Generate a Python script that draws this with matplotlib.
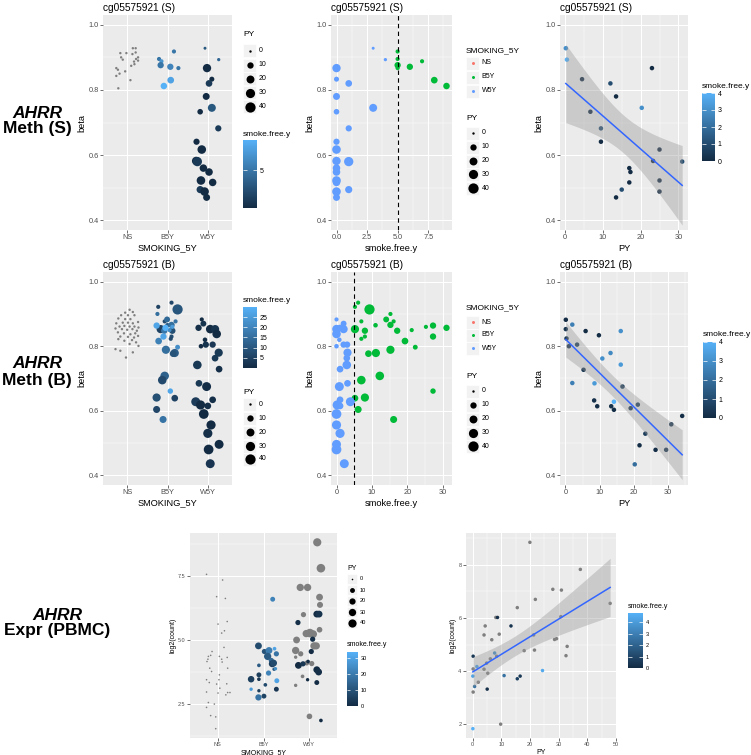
import numpy as np
import matplotlib.pyplot as plt
import matplotlib.ticker as ticker
from matplotlib.colors import LinearSegmentedColormap, Normalize
from matplotlib.cm import ScalarMappable
from matplotlib.patches import Rectangle

plt.rcParams["font.family"] = ["Liberation Sans", "DejaVu Sans"]

# ------------------------------------------------------------------
# data
# ------------------------------------------------------------------
GROUPS = ["NS", "B5Y", "W5Y"]
PY_BREAKS = [0, 10, 20, 30, 40]

# --- methylation, saliva (S) ---
S_NS_JIT = [0.83, 0.98, 1.14, 1.21, 1.21, 1.13, 1.27, 1.22, 1.17, 1.27, 0.85,
            0.89, 0.73, 0.77, 0.95, 1.10, 1.18, 0.73, 0.81, 1.08, 0.78]
S_NS_BETA = [0.913, 0.913, 0.928, 0.928, 0.915, 0.910, 0.900, 0.895, 0.887, 0.890, 0.900,
             0.893, 0.867, 0.862, 0.857, 0.874, 0.879, 0.843, 0.850, 0.830, 0.805]

S_B5Y_JIT = [2.16, 1.79, 1.85, 1.83, 2.07, 2.27, 2.08, 1.91]
S_B5Y_SFY = [5, 5, 7, 5, 6, 5, 8, 9]
S_B5Y_PY = [2, 2, 2, 10, 10, 2, 12, 11]
S_B5Y_BETA = [0.918, 0.895, 0.888, 0.876, 0.871, 0.867, 0.830, 0.812]

S_W5Y_JIT = [2.93, 3.27, 2.98, 3.10, 3.03, 2.96, 2.81, 3.10, 3.26, 2.72,
             2.85, 2.71, 2.74, 2.89, 3.03, 2.83, 3.12, 2.81, 2.92, 2.97]
S_W5Y_SFY = [3, 4, 0, 0, 1, 0, 0, 3, 1, 0, 0, 0, 1, 0, 0, 0, 0, 1, 0, 0]
S_W5Y_PY = [0.2, 0.5, 23, 4.5, 12, 13.5, 6.7, 20.3, 9.5, 9.5,
            25, 23.3, 31, 17, 17.3, 25, 17, 15, 25, 13.5]
S_W5Y_BETA = [0.928, 0.893, 0.867, 0.833, 0.820, 0.780, 0.733, 0.745, 0.682, 0.641,
              0.617, 0.582, 0.580, 0.560, 0.548, 0.522, 0.516, 0.494, 0.488, 0.470]

# --- methylation, blood (B) ---
B_NS_JIT = [1.06, 0.95, 1.14, 0.85, 1.02, 1.18, 0.78, 0.95, 1.08, 0.89, 0.73, 1.02, 1.14,
            1.27, 0.81, 0.93, 1.06, 1.18, 1.28, 0.71, 0.87, 1.00, 1.13, 1.24, 0.77, 0.92,
            1.08, 1.20, 0.83, 1.02, 1.17, 1.27, 0.78, 1.12, 1.22, 1.28, 1.06, 0.71, 0.83,
            1.14, 0.97, 0.93]
B_NS_BETA = [0.913, 0.904, 0.906, 0.896, 0.896, 0.896, 0.886, 0.884, 0.884, 0.873, 0.871,
             0.873, 0.871, 0.875, 0.861, 0.863, 0.861, 0.861, 0.858, 0.855, 0.853, 0.851,
             0.853, 0.848, 0.843, 0.840, 0.837, 0.840, 0.830, 0.829, 0.827, 0.832, 0.822,
             0.819, 0.812, 0.801, 0.807, 0.791, 0.786, 0.781, 0.765, 0.817]

B_B5Y_JIT = [1.77, 2.10, 2.25, 1.93, 1.83, 2.12, 2.10, 2.08, 2.00, 1.99, 1.75, 2.20, 2.10,
             1.92, 2.05, 2.12, 1.73, 1.95, 1.90, 1.78, 2.25, 1.96, 2.18, 2.14, 1.93, 1.87,
             2.07, 2.18, 1.73, 1.73, 1.89]
B_B5Y_SFY = [5.2, 6.1, 9.3, 7.0, 5.2, 8.0, 8.0, 7.0, 11.0, 14.0, 15.2, 16.1, 15.2, 17.1,
             21.2, 25.2, 27.2, 31.0, 27.2, 19.3, 22.2, 15.2, 11.1, 9.0, 12.2, 7.0, 27.2,
             5.2, 8.0, 6.1, 16.1]
B_B5Y_PY = [2, 2, 40, 2, 22, 10, 2, 2, 3, 8, 2, 2, 10, 10, 2, 2, 10, 10, 10, 12, 4, 22,
            22, 12, 25, 25, 6, 12, 22, 14, 14]
B_B5Y_BETA = [0.922, 0.935, 0.914, 0.877, 0.853, 0.848, 0.830, 0.823, 0.865, 0.883, 0.900,
              0.877, 0.866, 0.848, 0.850, 0.860, 0.864, 0.857, 0.830, 0.816, 0.797, 0.789,
              0.779, 0.777, 0.708, 0.695, 0.661, 0.639, 0.641, 0.604, 0.573]

B_W5Y_JIT = [2.85, 2.89, 3.06, 2.77, 3.18, 3.22, 2.93, 2.83, 2.95, 3.12, 3.27, 3.18, 2.74,
             3.28, 2.78, 2.97, 3.12, 2.70, 2.82, 3.00, 2.90, 3.08, 3.00, 3.28, 3.02, 3.06]
B_W5Y_SFY = [0.0, 2.0, 0.0, 1.0, 2.0, 0.0, 0.8, 0.0, 2.0, 3.0, 3.1, 2.9, 2.9, 1.0, 3.1,
             0.8, 1.0, 3.9, 0.2, 1.0, 0.0, 0.0, 1.0, 0.0, 0.0, 2.2]
B_W5Y_PY = [2, 8, 25, 10, 22, 25, 3, 3, 10, 10, 22, 12, 25, 12, 12, 28, 12, 28, 30, 12,
            35, 30, 30, 28, 35, 28]
B_W5Y_BETA = [0.883, 0.870, 0.853, 0.857, 0.853, 0.838, 0.820, 0.800, 0.805, 0.805, 0.780,
              0.763, 0.742, 0.729, 0.685, 0.675, 0.634, 0.628, 0.618, 0.615, 0.590, 0.556,
              0.530, 0.496, 0.480, 0.436]

B_LM_PY = [0.1, 0.1, 0.3, 2.0, 1.0, 3.4, 5.9, 9.8, 5.3, 2.0, 8.5, 10.8, 13.2, 16.2, 16.2,
           16.7, 14.2, 8.4, 9.3, 13.4, 14.2, 19.1, 21.2, 23.4, 21.7, 20.3, 26.4, 29.5,
           31.0, 34.2]
B_LM_SFY = [0, 0.3, 0.3, 2.5, 0.2, 0.5, 0, 0, 0.3, 2.5, 3.3, 3.0, 2.8, 3.0, 3.3, 0.5, 4.0,
            0.2, 0.1, 0.2, 0.1, 0.3, 0.5, 0.5, 0.1, 2.0, 0.1, 0.3, 0.3, 0.1]
B_LM_BETA = [0.882, 0.853, 0.824, 0.867, 0.800, 0.805, 0.847, 0.834, 0.727, 0.686, 0.685,
             0.762, 0.779, 0.847, 0.743, 0.675, 0.628, 0.632, 0.614, 0.614, 0.603, 0.608,
             0.619, 0.529, 0.493, 0.434, 0.479, 0.479, 0.558, 0.584]

# --- expression, PBMC ---
E_NS_JIT = [0.76, 1.11, 0.98, 1.17, 1.01, 1.21, 1.09, 1.15, 1.14, 0.88, 0.80, 0.85, 1.04,
            0.77, 0.79, 1.09, 1.10, 1.21, 0.83, 0.87, 1.22, 1.04, 0.76, 0.82, 1.03, 0.98,
            1.05, 1.20, 0.76, 1.01, 1.22, 1.27, 1.18, 0.80, 0.76, 0.93, 0.85, 0.96, 0.96]
E_NS_VAL = [7.56, 7.34, 6.69, 6.62, 5.62, 5.72, 5.27, 5.36, 4.71, 4.55, 4.36, 4.40, 4.36,
            4.16, 4.25, 4.25, 4.14, 4.32, 3.90, 3.77, 3.90, 3.64, 3.45, 3.34, 3.45, 3.28,
            3.12, 3.29, 2.97, 2.93, 2.95, 2.95, 2.86, 2.56, 2.37, 2.50, 2.05, 2.00, 1.54]

E_B5Y_JIT = [2.20, 1.89, 2.02, 2.12, 2.09, 2.24, 2.28, 2.17, 2.19, 2.22, 1.90, 2.23, 2.26,
             2.11, 1.90, 1.73, 1.90, 2.04, 2.29, 2.28, 1.73, 1.90, 1.89, 2.01]
E_B5Y_SFY = [22, 8, 10, 20, 12, 30, 18, 15, 5, 8, 12, 10, 25, 22, 5, 5, 3, 8, 30, 3, 28,
             5, 18, 6]
E_B5Y_PY = [10, 25, 12, 25, 30, 4, 12, 12, 25, 25, 4, 3, 3, 12, 10, 22, 4, 4, 10, 10, 3,
            3, 20, 10]
E_B5Y_VAL = [6.59, 4.77, 4.55, 4.59, 4.36, 4.66, 4.46, 4.20, 4.07, 4.10, 4.01, 3.86, 3.88,
             3.71, 3.64, 3.47, 3.47, 3.25, 3.41, 3.08, 3.08, 3.02, 2.76, 2.81]

E_W5Y_JIT = [3.17, 3.25, 2.80, 2.96, 3.22, 3.23, 2.87, 3.22, 3.01, 3.08, 2.93, 2.72, 2.70,
             2.81, 3.10, 3.15, 2.70, 2.94, 3.05, 2.85, 2.70, 3.00,
             2.75, 3.16, 3.21, 3.07, 3.04, 2.76, 2.86, 2.97, 3.16, 3.20, 2.96, 3.16, 3.25]
E_W5Y_SFY = [np.nan] * 22 + [1, 0, 2, 1, 0, 0, 3, 0, 0, 1, 0, 0, 0]
E_W5Y_PY = [40, 45, 30, 30, 25, 18, 12, 15, 45, 35, 30, 25, 30, 12, 30, 28, 3, 10, 12, 4,
            3, 15, 12, 25, 25, 12, 12, 25, 12, 4, 25, 25, 3, 10, 4]
E_W5Y_VAL = [8.81, 7.80, 7.05, 7.05, 6.67, 6.37, 5.99, 5.40, 5.27, 5.23, 5.25, 5.00, 4.59,
             4.46, 4.77, 4.77, 4.33, 4.10, 4.08, 3.58, 3.23, 2.02,
             5.68, 6.01, 6.01, 5.03, 4.55, 4.01, 4.07, 4.16, 3.84, 3.75, 3.45, 3.34, 1.86]

E_LM_PY = [20, 37.6, 28, 31, 21.9, 48, 15.6, 30.8, 8.1, 4.4, 4.0, 9.3, 21.3, 6.7, 28.6,
           29.3, 33, 18, 21.6, 8.4, 6.2, 4.9, 32.6, 0.2, 4.0, 5.3, 2.0, 0.2, 9.8,
           8.7, 13.4, 7.7, 0.2, 1.5, 24.4, 0.1, 11, 16.6, 15.6, 0.7, 5.1, 0.1]
E_LM_SFY = [np.nan] * 29 + [0.2, 0.3, 3.5, 0.5, 4.2, 4.5, 4.3, 2.5, 0.5, 0.8, 2.5, 0.2, 4.8]
E_LM_VAL = [8.85, 7.83, 7.08, 7.05, 6.70, 6.55, 6.39, 6.05, 6.02, 5.70, 5.36, 5.39, 5.36,
            5.18, 5.19, 5.22, 4.93, 4.77, 4.79, 4.56, 4.46, 4.30, 4.58, 4.08, 4.07, 3.92,
            3.58, 3.21, 2.00,
            6.02, 5.70, 4.68, 4.56, 4.17, 4.02, 3.81, 3.83, 3.81, 3.71, 3.42, 3.32, 1.83]

# ------------------------------------------------------------------
# styling helpers
# ------------------------------------------------------------------
W, H = 751, 755
GG_BLUE = LinearSegmentedColormap.from_list("gg", ["#132B43", "#56B1F7"]).with_extremes(bad="#7F7F7F")
GROUP_COL = {"NS": "#F8766D", "B5Y": "#00BA38", "W5Y": "#619CFF"}

fig = plt.figure(figsize=(W / 100, H / 100), dpi=100)

# overlay in pixel coordinates for legends and row labels
ov = fig.add_axes([0, 0, 1, 1])
ov.set_xlim(0, W)
ov.set_ylim(H, 0)
ov.set_autoscale_on(False)
ov.axis("off")
ov.set_zorder(10)


def px_axes(x0, y0, x1, y1):
    return fig.add_axes([x0 / W, 1 - y1 / H, (x1 - x0) / W, (y1 - y0) / H])


def pt2(d_px):
    return (np.asarray(d_px, float) * 0.72) ** 2


def size_meth(py):
    return pt2(2.4 + 8.3 * np.sqrt(np.asarray(py, float) / 45))


def size_expr(py):
    return pt2(1.6 + 7.0 * np.sqrt(np.asarray(py, float) / 45))


def gg_style(ax, fs, xminor=True):
    ax.set_facecolor("#EBEBEB")
    for sp in ax.spines.values():
        sp.set_visible(False)
    ax.set_axisbelow(True)
    ax.grid(which="major", color="white", lw=0.75)
    ax.grid(which="minor", color="white", lw=0.35)
    if xminor:
        ax.xaxis.set_minor_locator(ticker.AutoMinorLocator(2))
    ax.yaxis.set_minor_locator(ticker.AutoMinorLocator(2))
    ax.tick_params(which="major", length=2, width=0.5, color="#333333",
                   labelcolor="#4D4D4D", labelsize=fs, pad=1.2)
    ax.tick_params(which="minor", length=0)


def add_lm(ax, x, y):
    x = np.asarray(x, float)
    y = np.asarray(y, float)
    n = len(x)
    b, a = np.polyfit(x, y, 1)
    xs = np.linspace(x.min(), x.max(), 80)
    fit = a + b * xs
    s = np.sqrt(np.sum((y - (a + b * x)) ** 2) / (n - 2))
    se = s * np.sqrt(1 / n + (xs - x.mean()) ** 2 / np.sum((x - x.mean()) ** 2))
    t = 1.96 + 2.4 / (n - 2)
    ax.fill_between(xs, fit - t * se, fit + t * se, color="#999999", alpha=0.4, lw=0, zorder=3)
    ax.plot(xs, fit, color="#3366FF", lw=1.1, zorder=4)


def colorbar(x0, y0, x1, y1, vmax, ticks, title_y, fs_title, fs_lab):
    cax = px_axes(x0, y0, x1, y1)
    cb = fig.colorbar(ScalarMappable(Normalize(0, vmax), GG_BLUE), cax=cax)
    cb.outline.set_visible(False)
    cb.set_ticks(ticks)
    cb.minorticks_off()
    cax.tick_params(which="both", left=True, right=True, direction="in", color="white",
                    length=(x1 - x0) * 0.2, width=0.5, labelsize=fs_lab, pad=2)
    ov.text(x0, title_y, "smoke.free.y", fontsize=fs_title, va="center", ha="left")


def py_legend(x, y_title, ys, key, sizef, fs_title, fs_lab):
    ov.text(x, y_title, "PY", fontsize=fs_title, va="center", ha="left")
    for yy, v in zip(ys, PY_BREAKS):
        ov.add_patch(Rectangle((x, yy - key / 2), key, key, fc="#F2F2F2", ec="white", lw=0.5))
        ov.scatter([x + key / 2], [yy], s=sizef([v]), color="black", lw=0, zorder=5)
        ov.text(x + key + 2.5, yy, str(v), fontsize=fs_lab, va="center", ha="left")


def group_legend(x, y_title, ys, key, fs_title, fs_lab):
    ov.text(x, y_title, "SMOKING_5Y", fontsize=fs_title, va="center", ha="left")
    for yy, g in zip(ys, GROUPS):
        ov.add_patch(Rectangle((x, yy - key / 2), key, key, fc="#F2F2F2", ec="white", lw=0.5))
        ov.scatter([x + key / 2], [yy], s=pt2(3), color=GROUP_COL[g], lw=0, zorder=5)
        ov.text(x + key + 2.5, yy, g, fontsize=fs_lab, va="center", ha="left")


def meth_row(top, bot, title, ns, b5y, w5y, sfy_max, lm, sfy_ticks, sfy_fmt, vline=5.0):
    ns_jit, ns_beta = ns
    # panel 1: beta by smoking group
    ax = px_axes(103, top, 232, bot)
    gg_style(ax, 5.3, xminor=False)
    ax.scatter(ns_jit, ns_beta, s=size_meth(np.zeros(len(ns_jit))), color="#7F7F7F", lw=0)
    for jit, sfy, py, beta in (b5y, w5y):
        ax.scatter(jit, beta, s=size_meth(py), c=sfy, cmap=GG_BLUE, vmin=0, vmax=sfy_max, lw=0)
    ax.set_xlim(0.4, 3.6)
    ax.set_xticks([1, 2, 3], GROUPS)
    panels = [ax]

    # panel 2: beta by years smoke free
    ax = px_axes(331, top, 452, bot)
    gg_style(ax, 5.3)
    for grp, (jit, sfy, py, beta) in zip(["B5Y", "W5Y"], (b5y, w5y)):
        ax.scatter(sfy, beta, s=size_meth(py), color=GROUP_COL[grp], lw=0)
    ax.axvline(vline, color="black", lw=0.8, ls=(0, (4, 3)))
    ax.margins(x=0.05)
    ax.set_xticks(sfy_ticks)
    ax.xaxis.set_major_formatter(ticker.FormatStrFormatter(sfy_fmt))
    panels.append(ax)

    # panel 3: beta vs pack-years for recent quitters
    py, sfy, beta = lm
    ax = px_axes(560, top, 688, bot)
    gg_style(ax, 5.3)
    ax.scatter(py, beta, s=pt2(4.5), c=sfy, cmap=GG_BLUE, vmin=0, vmax=4, lw=0, zorder=2)
    add_lm(ax, py, beta)
    ax.margins(x=0.05)
    ax.set_xticks([0, 10, 20, 30])
    panels.append(ax)

    for ax, xl in zip(panels, ["SMOKING_5Y", "smoke.free.y", "PY"]):
        ax.set_ylim(0.37, 1.03)
        ax.set_yticks([0.4, 0.6, 0.8, 1.0])
        ax.yaxis.set_major_formatter(ticker.FormatStrFormatter("%.1f"))
        ax.set_title(title, loc="left", fontsize=7.3, pad=3)
        ax.set_xlabel(xl, fontsize=6.7, labelpad=1.5)
        ax.set_ylabel("beta", fontsize=6.7, labelpad=1.5)
    return panels


# ------------------------------------------------------------------
# row 1: saliva
# ------------------------------------------------------------------
s_lm = (S_W5Y_PY, S_W5Y_SFY, S_W5Y_BETA)
meth_row(15, 230, "cg05575921 (S)", (S_NS_JIT, S_NS_BETA),
         (S_B5Y_JIT, S_B5Y_SFY, S_B5Y_PY, S_B5Y_BETA),
         (S_W5Y_JIT, S_W5Y_SFY, S_W5Y_PY, S_W5Y_BETA), 9, s_lm,
         [0, 2.5, 5, 7.5], "%.1f")
py_legend(243, 35, [50.7, 65, 78.7, 92.7, 106.7], 13, size_meth, 6, 5)
colorbar(243, 140, 257, 208, 9, [5], 135, 6, 5)
group_legend(466, 51, [63, 77, 91], 13, 6, 5)
py_legend(466, 119, [133, 147, 161, 174, 188], 13, size_meth, 6, 5)
colorbar(702, 93, 715, 161, 4, [0, 1, 2, 3, 4], 86, 6, 5)

# ------------------------------------------------------------------
# row 2: blood
# ------------------------------------------------------------------
b_lm = (B_LM_PY, B_LM_SFY, B_LM_BETA)
meth_row(272, 485, "cg05575921 (B)", (B_NS_JIT, B_NS_BETA),
         (B_B5Y_JIT, B_B5Y_SFY, B_B5Y_PY, B_B5Y_BETA),
         (B_W5Y_JIT, B_W5Y_SFY, B_W5Y_PY, B_W5Y_BETA), 30, b_lm,
         [0, 10, 20, 30], "%d")
colorbar(243, 307, 257, 368, 30, [5, 10, 15, 20, 25], 301, 6, 5)
py_legend(243, 392, [404, 418, 432, 446, 459], 13, size_meth, 6, 5)
group_legend(466, 308, [322, 335, 348], 13, 6, 5)
py_legend(466, 377, [391, 405, 419, 433, 446], 13, size_meth, 6, 5)
colorbar(703, 342, 716, 418, 4, [0, 1, 2, 3, 4], 334, 6, 5)

# ------------------------------------------------------------------
# row 3: expression
# ------------------------------------------------------------------
ax = px_axes(190, 533, 337, 738)
gg_style(ax, 4, xminor=False)
ax.scatter(E_NS_JIT, E_NS_VAL, s=size_expr(np.zeros(len(E_NS_JIT))), color="#7F7F7F", lw=0)
for jit, sfy, py, val in ((E_B5Y_JIT, E_B5Y_SFY, E_B5Y_PY, E_B5Y_VAL),
                          (E_W5Y_JIT, E_W5Y_SFY, E_W5Y_PY, E_W5Y_VAL)):
    ax.scatter(jit, val, s=size_expr(py), c=sfy, cmap=GG_BLUE, vmin=0, vmax=33.6,
               lw=0, plotnonfinite=True)
ax.set_xlim(0.4, 3.6)
ax.set_xticks([1, 2, 3], GROUPS)
ax.set_yticks([2.5, 5.0, 7.5])
ax.yaxis.set_major_formatter(ticker.FormatStrFormatter("%.1f"))
ax.set_xlabel("SMOKING_5Y", fontsize=5, labelpad=1)
ax.set_ylabel("log2(count)", fontsize=5, labelpad=1)
py_legend(347, 569, [579, 590, 601, 612, 623], 10, size_expr, 5, 4)
colorbar(347, 652, 358, 706, 33.6, [0, 10, 20, 30], 645, 5, 4)

ax = px_axes(466, 533, 617, 738)
gg_style(ax, 4)
ax.scatter(E_LM_PY, E_LM_VAL, s=pt2(3.5), c=E_LM_SFY, cmap=GG_BLUE, vmin=0, vmax=4.8,
           lw=0, plotnonfinite=True, zorder=2)
add_lm(ax, E_LM_PY, E_LM_VAL)
ax.margins(0.05)
ax.set_xticks([0, 10, 20, 30, 40, 50])
ax.set_yticks([2, 4, 6, 8])
ax.set_xlabel("PY", fontsize=5, labelpad=1)
ax.set_ylabel("log2(count)", fontsize=5, labelpad=1)
colorbar(628, 613, 643, 668, 4.8, [0, 1, 2, 3, 4], 606, 5, 4)

# ------------------------------------------------------------------
# row labels
# ------------------------------------------------------------------
for cx, y1, y2, txt in [(37, 113, 129, "Meth (S)"), (37, 364, 380, "Meth (B)"),
                        (57, 615, 631, "Expr (PBMC)")]:
    ov.text(cx, y1, "AHRR", fontsize=12.5, fontweight="bold", fontstyle="italic",
            ha="center", va="center")
    ov.text(cx, y2, txt, fontsize=12.5, fontweight="bold", ha="center", va="center")

fig.savefig("out.png", dpi=100)
